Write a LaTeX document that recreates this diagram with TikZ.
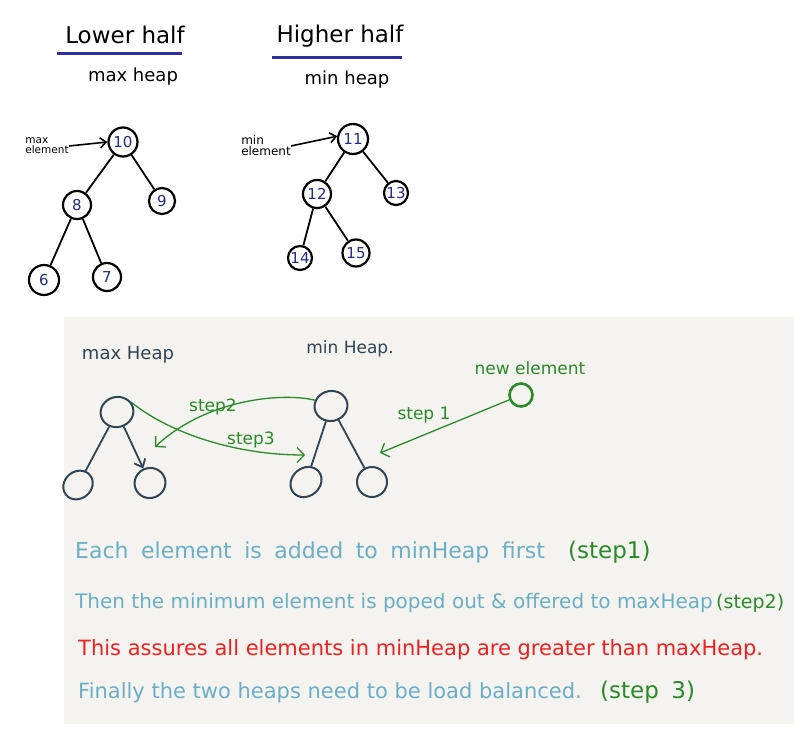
\documentclass[tikz,border=0pt]{standalone}
\usepackage{fontspec}
\setmainfont{DejaVu Sans}
\usetikzlibrary{arrows.meta}
\usetikzlibrary{shapes.geometric}

\definecolor{inkblue}{HTML}{2E2E9C}
\definecolor{numblue}{HTML}{1F2A8C}
\definecolor{slate}{HTML}{2F4455}
\definecolor{pengreen}{HTML}{2A8A2A}
\definecolor{skyblue}{HTML}{6AAFC6}
\definecolor{penred}{HTML}{EE2020}
\definecolor{paper}{HTML}{F4F3EF}
\newcommand\widegaps{\spaceskip=12.5pt\relax}

\begin{document}
\begin{tikzpicture}[x=1pt,y=-1pt]
    \tikzset{vertex/.style = {shape=circle,draw,line width=2.2pt,inner sep=0pt,text=numblue,font=\fontsize{15}{15}\selectfont}}
    \tikzset{vertex2/.style = {shape=rectangle,draw=none,inner sep=0pt}}
    \tikzset{vertex3/.style = {shape=ellipse,draw=slate,line width=2pt,inner sep=0pt,minimum width=33pt,minimum height=30pt}}
    \tikzset{edge/.style = {-,line width=1.8pt}}
    \tikzset{pointer/.style = {-{Straight Barb[length=6pt,width=10pt]},line width=1.6pt}}
    \tikzset{greenedge/.style = {-{Straight Barb[length=7pt,width=15pt]},draw=pengreen,line width=1.3pt}}
    \tikzset{note/.style = {vertex2,anchor=base west,font=\fontsize{21}{21}\selectfont}}

    \useasboundingbox (0,0) rectangle (794,736);
    \fill[paper] (64,317) rectangle (794,724);

    % titles
    \node[vertex2,font=\fontsize{23}{23}\selectfont] (lowt) at (125,35) {Lower half};
    \draw[inkblue,line width=3pt] (57,53) -- (182,53);
    \node[vertex2,font=\fontsize{18}{18}\selectfont] (lows) at (133,77) {max heap};
    \node[vertex2,font=\fontsize{23}{23}\selectfont] (hight) at (340,36) {Higher half};
    \draw[inkblue,line width=3pt] (272,57) -- (402,57);
    \node[vertex2,font=\fontsize{18}{18}\selectfont] (highs) at (347,80) {min heap};

    % max heap
    \node[vertex,minimum size=29pt] (n10) at (123,142) {10};
    \node[vertex,minimum size=26pt] (n9) at (162,201) {9};
    \node[vertex,minimum size=28pt] (n8) at (77,205) {8};
    \node[vertex,minimum size=30pt] (n6) at (44,280) {6};
    \node[vertex,minimum size=28pt] (n7) at (107,277) {7};
    \draw[edge] (n10) to (n8);
    \draw[edge] (n10) to (n9);
    \draw[edge] (n8) to (n6);
    \draw[edge] (n8) to (n7);
    \node[vertex2,align=left,font=\fontsize{10.5}{10}\selectfont] (maxl) at (47,146) {max\\element};
    \draw[pointer] (maxl.east) to (n10.west);

    % min heap
    \node[vertex,minimum size=30pt] (n11) at (353,139) {11};
    \node[vertex,minimum size=24pt] (n13) at (396,193) {13};
    \node[vertex,minimum size=28pt] (n12) at (317,194) {12};
    \node[vertex,minimum size=24pt] (n14) at (300,258) {14};
    \node[vertex,minimum size=27pt] (n15) at (356,253) {15};
    \draw[edge] (n11) to (n12);
    \draw[edge] (n11) to (n13);
    \draw[edge] (n12) to (n14);
    \draw[edge] (n12) to (n15);
    \node[vertex2,align=left,font=\fontsize{12}{11}\selectfont] (minl) at (266,146) {min\\element};
    \draw[pointer] (minl.east) to (n11.170);

    % lower panel
    \node[vertex2,text=slate,font=\fontsize{18}{18}\selectfont] (maxh) at (128,355) {max Heap};
    \node[vertex2,text=slate,font=\fontsize{17}{17}\selectfont] (minh) at (350,349) {min Heap.};
    \node[vertex3,rotate=15] (xr) at (117,412) {};
    \node[vertex3,rotate=40,minimum width=31pt,minimum height=27pt] (xa) at (78,485) {};
    \node[vertex3,rotate=20,minimum width=31pt,minimum height=30pt] (xb) at (150,483) {};
    \node[vertex3,rotate=10] (mr) at (331,406) {};
    \node[vertex3,rotate=40,minimum width=33pt,minimum height=28pt] (ma) at (306,482) {};
    \node[vertex3,minimum width=30pt,minimum height=30pt] (mb) at (372,482) {};
    \draw[edge,draw=slate] (xr) to (xa);
    \draw[-{Straight Barb[length=7pt,width=12pt]},line width=1.8pt,draw=slate] (xr) to (xb);
    \draw[edge,draw=slate] (mr) to (ma);
    \draw[edge,draw=slate] (mr) to (mb);

    \node[vertex2,text=pengreen,font=\fontsize{17}{17}\selectfont] (newl) at (530,368) {new element};
    \node[shape=circle,draw=pengreen,line width=2.6pt,minimum size=23pt,inner sep=0pt] (ne) at (521,395) {};
    \coordinate (e1) at (380,453);
    \coordinate (e2) at (155,447);
    \coordinate (e3) at (305,455);
    \draw[greenedge] (ne) to (e1);
    \draw[greenedge] (mr.150) .. controls (280,392) and (205,400) .. (e2);
    \draw[greenedge] (xr.20) .. controls (165,430) and (230,455) .. (e3);
    \node[vertex2,text=pengreen,font=\fontsize{17}{17}\selectfont] (s1) at (424,415) {step 1};
    \node[vertex2,text=pengreen,font=\fontsize{17}{17}\selectfont] (s2) at (213,407) {step2};
    \node[vertex2,text=pengreen,font=\fontsize{17}{17}\selectfont] (s3) at (251,440) {step3};

    % notes
    \node[note,text=skyblue,font={\fontsize{22}{22}\selectfont\widegaps}] (t1) at (75,558) {Each element is added to minHeap first};
    \node[note,text=pengreen,font=\fontsize{23}{23}\selectfont] (t1s) at (568,558) {(step1)};
    \node[note,text=skyblue,font=\fontsize{20}{20}\selectfont] (t2) at (75,608) {Then the minimum element is poped out \& offered to maxHeap};
    \node[note,text=pengreen,font=\fontsize{19}{19}\selectfont] (t2s) at (716,608) {(step2)};
    \node[note,text=penred] (t3) at (78,655) {This assures all elements in minHeap are greater than maxHeap.};
    \node[note,text=skyblue] (t4) at (78,698) {Finally the two heaps need to be load balanced.};
    \node[note,text=pengreen,font={\fontsize{23}{23}\selectfont\widegaps}] (t4s) at (600,698) {(step 3)};
\end{tikzpicture}
\end{document}
